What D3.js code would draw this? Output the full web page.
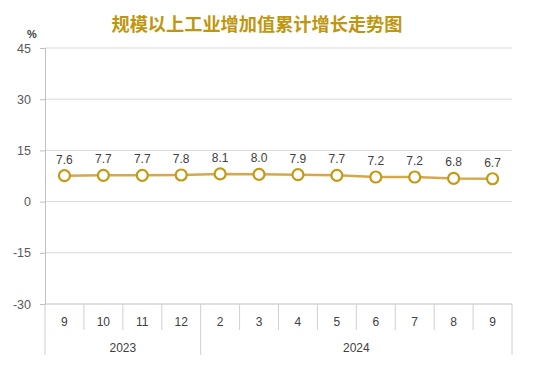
<!DOCTYPE html>
<html><head><meta charset="utf-8">
<script src="https://cdn.jsdelivr.net/npm/d3@7/dist/d3.min.js"></script>
<style>body{margin:0;background:#fff;}svg{display:block;}</style>
</head><body>
<script>
const months = ["9","10","11","12","2","3","4","5","6","7","8","9"];
const years = [{label:"2023", start:0, end:4},{label:"2024", start:4, end:12}];
const values = [7.6,7.7,7.7,7.8,8.1,8.0,7.9,7.7,7.2,7.2,6.8,6.7];
const yTicks = [-30,-15,0,15,30,45];
const title = "规模以上工业增加值累计增长走势图";

const W=534,H=369;
const svg=d3.select("body").append("svg").attr("width",W).attr("height",H);
const pL=45,pR=512,pT=48,pB=304;
const x=d3.scaleBand().domain(d3.range(months.length)).range([pL,pR]);
const y=d3.scaleLinear().domain([-30,45]).range([pB,pT]);

svg.append("text").attr("x",257).attr("y",31).attr("text-anchor","middle")
  .attr("font-family","'Noto Sans CJK SC',sans-serif").attr("font-weight","bold")
  .attr("font-size",18.2).attr("fill","#C0960F").text(title);

// grid
svg.append("g").selectAll("line").data(yTicks.filter(d=>d!==-30)).join("line")
  .attr("x1",pL).attr("x2",pR).attr("y1",d=>y(d)).attr("y2",d=>y(d))
  .attr("stroke","#d9d9d9").attr("stroke-width",1);
// y axis
const ya=svg.append("g").attr("transform",`translate(${pL},0)`)
  .call(d3.axisLeft(y).tickValues(yTicks).tickFormat(d=>String(d)).tickSize(5).tickPadding(9));
ya.select(".domain").attr("stroke","#bfbfbf");
ya.selectAll(".tick line").attr("stroke","#bfbfbf");
ya.selectAll("text").attr("font-family","'Liberation Sans',sans-serif").attr("font-size",12.5).attr("fill","#595959");
svg.append("text").attr("x",32).attr("y",38).attr("text-anchor","middle")
  .attr("font-family","'Liberation Sans',sans-serif").attr("font-size",11).attr("font-weight","bold").attr("fill","#404040").text("%");

// x axis line
svg.append("line").attr("x1",pL).attr("x2",pR).attr("y1",pB).attr("y2",pB).attr("stroke","#bfbfbf");
// separators
const bounds=d3.range(months.length+1);
const yearB=new Set(years.flatMap(d=>[d.start,d.end]));
svg.append("g").selectAll("line").data(bounds).join("line")
  .attr("x1",i=>i<months.length?x(i):pR).attr("x2",i=>i<months.length?x(i):pR)
  .attr("y1",pB).attr("y2",i=>yearB.has(i)?355:330)
  .attr("stroke","#d0d0d0");
svg.append("g").selectAll("text").data(months).join("text")
  .attr("x",(d,i)=>x(i)+x.bandwidth()/2).attr("y",326).attr("text-anchor","middle")
  .attr("font-family","'Liberation Sans',sans-serif").attr("font-size",12).attr("fill","#404040").text(d=>d);
svg.append("g").selectAll("text").data(years).join("text")
  .attr("x",d=>(x(d.start)+(d.end<months.length?x(d.end):pR))/2).attr("y",352).attr("text-anchor","middle")
  .attr("font-family","'Liberation Sans',sans-serif").attr("font-size",12).attr("fill","#404040").text(d=>d.label);

// line
const cx=i=>x(i)+x.bandwidth()/2;
svg.append("path").datum(values)
  .attr("d",d3.line().x((d,i)=>cx(i)).y(d=>y(d)))
  .attr("fill","none").attr("stroke","#D6A84A").attr("stroke-width",2.5);
svg.append("g").selectAll("circle").data(values).join("circle")
  .attr("cx",(d,i)=>cx(i)).attr("cy",d=>y(d)).attr("r",5.5)
  .attr("fill","#fff").attr("stroke","#C49A14").attr("stroke-width",2.2);
svg.append("g").selectAll("text").data(values).join("text")
  .attr("x",(d,i)=>cx(i)).attr("y",d=>y(d)-12).attr("text-anchor","middle")
  .attr("font-family","'Liberation Sans',sans-serif").attr("font-size",12).attr("fill","#404040")
  .text(d=>d.toFixed(1));
</script>
</body></html>
